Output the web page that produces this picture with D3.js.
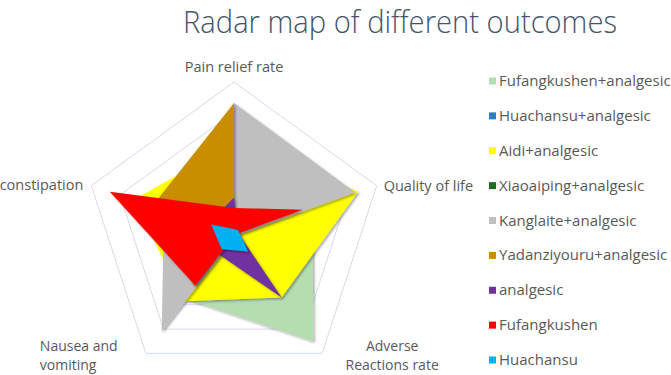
<!DOCTYPE html>
<html>
<head>
<meta charset="utf-8">
<script src="https://cdn.jsdelivr.net/npm/d3@7"></script>
<style>
  body { margin: 0; background: #fff; }
  svg { display: block; font-family: "Open Sans", "Noto Sans", sans-serif; }
  .axis-label { font-size: 14.5px; fill: #595959; }
  .axis-label.two { font-size: 14px; }
  .legend text { font-size: 15px; fill: #595959; }
  .title { font-size: 32px; font-weight: 300; fill: #44546a; }
</style>
</head>
<body>
<div id="chart"></div>
<script>
// radar: 5 outcomes, 9 treatment series (0..1)
const AXES = ["Pain relief rate", "Quality of life", "Adverse Reactions rate", "Nausea and vomiting", "constipation"];
const AXIS_LINES = [["Pain relief rate"], ["Quality of life"], ["Adverse", "Reactions rate"], ["Nausea and", "vomiting"], ["constipation"]];

const SERIES = [
  "Fufangkushen+analgesic", "Huachansu+analgesic", "Aidi+analgesic",
  "Xiaoaiping+analgesic", "Kanglaite+analgesic", "Yadanziyouru+analgesic",
  "analgesic", "Fufangkushen", "Huachansu"
];
// order of values = AXES order
const VALUES = [
  [0.55, 0.55, 0.90, 0.55, 0.45],
  [0.40, 0.50, 0.30, 0.35, 0.40],
  [0.59, 0.87, 0.54, 0.57, 0.70],
  [0.50, 0.30, 0.01, 0.10, 0.10],
  [0.86, 0.85, 0.03, 0.82, 0.49],
  [0.86, 0.00, 0.00, 0.45, 0.57],
  [0.23, 0.02, 0.54, 0.18, 0.18],
  [0.16, 0.48, 0.02, 0.44, 0.87],
  [0.02, 0.03, 0.16, 0.14, 0.16]
];
const COLORS = ["#b5deb0", "#2e7fc4", "#ffff00", "#1f6b22", "#bfbfbf", "#c98e00", "#7030a0", "#ff0000", "#00b0f0"];
const GRID_LEVELS = [0.2, 0.4, 0.6, 0.8, 1.0];

const W = 671, H = 375;
const CX = 234, CY = 232, R = 150;

const svg = d3.select("#chart").append("svg").attr("width", W).attr("height", H);

const defs = svg.append("defs");
defs.append("filter").attr("id", "shadow").attr("x", "-10%").attr("y", "-10%").attr("width", "130%").attr("height", "130%")
  .append("feDropShadow").attr("dx", 1.5).attr("dy", 1.5).attr("stdDeviation", 1.2)
  .attr("flood-color", "#000").attr("flood-opacity", 0.35);

const rScale = d3.scaleLinear().domain([0, 1]).range([0, R]);
const angle = d3.scalePoint().domain(AXES).range([0, 2 * Math.PI * (AXES.length - 1) / AXES.length]);

const g = svg.append("g").attr("transform", `translate(${CX},${CY})`);
const radial = d3.lineRadial().angle((d, i) => angle(AXES[i])).radius(d => rScale(d)).curve(d3.curveLinearClosed);

// grid rings
g.selectAll(".ring").data(GRID_LEVELS).join("path")
  .attr("class", "ring")
  .attr("d", lv => radial(AXES.map(() => lv)))
  .attr("fill", "none").attr("stroke", "#d3dbea").attr("stroke-width", 1);

// filled series, first series at the bottom
g.selectAll(".series").data(VALUES).join("path")
  .attr("class", "series")
  .attr("d", d => radial(d))
  .attr("fill", (d, i) => COLORS[i])
  .attr("filter", "url(#shadow)");

// axis labels (one text per line)
function pt(a, r){ return [Math.sin(angle(a)) * rScale(r), -Math.cos(angle(a)) * rScale(r)]; }
const LABEL_POS = [
  { dx: 0, dy: -10, anchor: "middle" },
  { dx: 7, dy: 5, anchor: "start" },
  { dx: 70, dy: -2, anchor: "middle" },
  { dx: -106, dy: -2, anchor: "start" },
  { dx: -8, dy: 4, anchor: "end" }
];
AXES.forEach((a, i) => {
  const [x, y] = pt(a, 1);
  const p = LABEL_POS[i];
  const lines = AXIS_LINES[i];
  lines.forEach((line, k) => {
    g.append("text").attr("class", lines.length > 1 ? "axis-label two" : "axis-label")
      .attr("x", x + p.dx).attr("y", y + p.dy + k * 19)
      .attr("text-anchor", p.anchor).text(line);
  });
});

// legend
const legY = d3.scalePoint().domain(SERIES).range([81, 360]);
const leg = svg.append("g").attr("class", "legend");
const rows = leg.selectAll("g").data(SERIES).join("g")
  .attr("transform", d => `translate(489,${legY(d)})`);
rows.append("rect").attr("x", 0).attr("y", -3.5).attr("width", 7).attr("height", 7)
  .attr("fill", (d, i) => COLORS[i]);
rows.append("text").attr("x", 10).attr("y", 5).text(d => d);

// title
svg.append("text").attr("class", "title")
  .attr("x", 183).attr("y", 33)
  .attr("textLength", 434).attr("lengthAdjust", "spacingAndGlyphs")
  .text("Radar map of different outcomes");
</script>
</body>
</html>
